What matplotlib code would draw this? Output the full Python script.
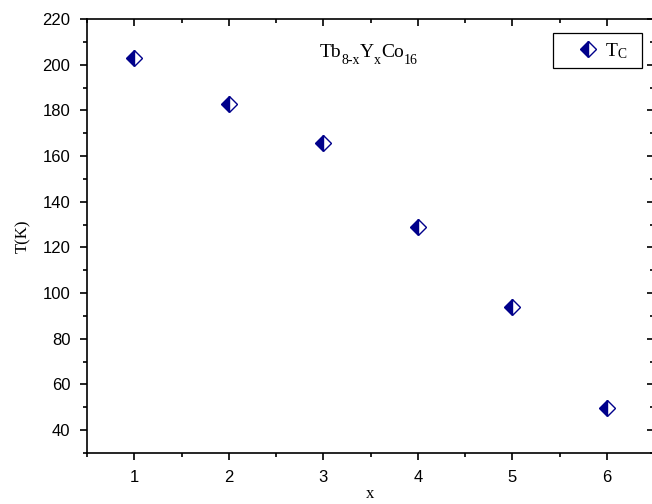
import matplotlib
matplotlib.use("Agg")
import matplotlib.pyplot as plt
from matplotlib.patches import Rectangle
from matplotlib.ticker import MultipleLocator

# data
x_vals = [1, 2, 3, 4, 5, 6]
tc_vals = [203.0, 183.0, 165.5, 128.8, 93.8, 49.7]
x_ticks = [1, 2, 3, 4, 5, 6]
y_ticks = [40, 60, 80, 100, 120, 140, 160, 180, 200, 220]
title_parts = [("Tb", False), ("8-x", True), ("Y", False), ("x", True),
               ("Co", False), ("16", True)]

navy = "#00008b"
W, H = 652, 504

plt.rcParams["mathtext.fontset"] = "custom"
plt.rcParams["mathtext.rm"] = "Liberation Serif"
plt.rcParams["mathtext.it"] = "Liberation Serif"

fig = plt.figure(figsize=(W / 100, H / 100), dpi=100)
ax = fig.add_axes([87 / W, 51 / H, 567 / W, 434 / H])

ax.plot(x_vals, tc_vals, linestyle="none", marker="D", markersize=8,
        fillstyle="left", color=navy, markerfacecoloralt="white",
        markeredgecolor=navy, markeredgewidth=1.0, label=r"$\mathrm{T_C}$")

ax.set_xlim(0.5, 6.5)
ax.set_ylim(30, 220)
ax.set_xticks(x_ticks)
ax.set_yticks(y_ticks)
ax.xaxis.set_minor_locator(MultipleLocator(0.5))
ax.yaxis.set_minor_locator(MultipleLocator(10))

for side in ["bottom", "left", "top"]:
    ax.spines[side].set_linewidth(1.2)
ax.spines["right"].set_visible(False)
ax.tick_params(which="both", direction="out", top=True, right=True,
               width=1.2, labelsize=12, pad=7, labelfontfamily="Liberation Sans")
ax.tick_params(which="major", length=5)
ax.tick_params(which="minor", length=3)
# top and right ticks point inward
for t in ax.xaxis.get_major_ticks() + ax.xaxis.get_minor_ticks():
    t.tick2line.set_marker(3)
for t in ax.yaxis.get_major_ticks() + ax.yaxis.get_minor_ticks():
    t.tick2line.set_marker(0)

ax.set_xlabel("x", fontfamily="Liberation Serif", fontsize=12, labelpad=1)
ax.set_ylabel("T(K)", fontfamily="Liberation Serif", fontsize=12, labelpad=8)

# formula with lowered subscripts, piece by piece
renderer = fig.canvas.get_renderer()
px, base = 320, H - 57
for s, sub in title_parts:
    t = fig.text(px / W, (base - (7 if sub else 0)) / H, s,
                 fontsize=10 if sub else 14, family="Liberation Serif", va="baseline")
    px = t.get_window_extent(renderer).x1

# legend: entries without frame, box drawn separately (Origin-like padding)
ax.legend(loc="center left", bbox_to_anchor=(0.8665, 0.927), frameon=False,
          fontsize=14, handletextpad=0.38, borderpad=0, handlelength=1.0,
          borderaxespad=0)
ax.add_patch(Rectangle((0.822, 0.887), 0.157, 0.081, transform=ax.transAxes,
                       facecolor="none", edgecolor="black", linewidth=0.9,
                       clip_on=False))

fig.savefig("out.png", dpi=100)
